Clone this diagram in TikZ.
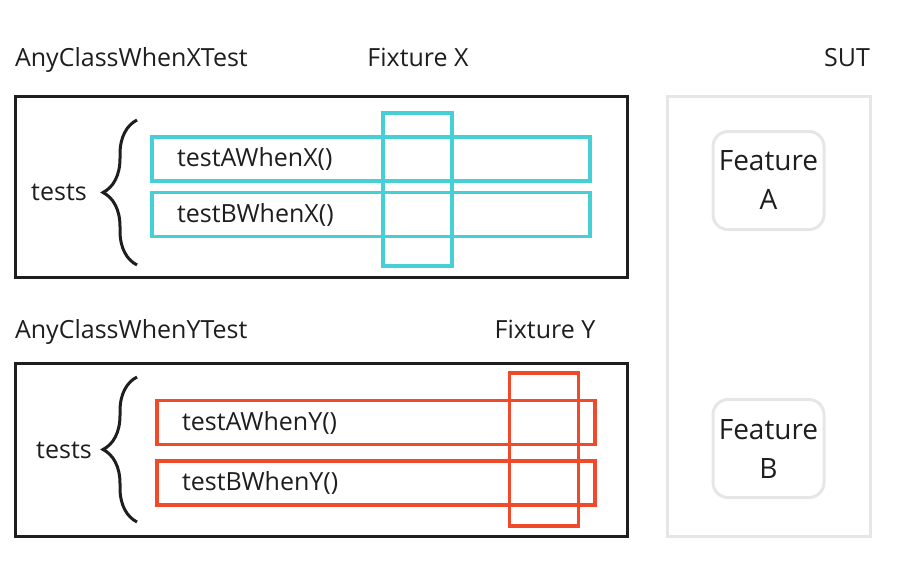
\documentclass[tikz,border=0pt]{standalone}
\usepackage{fontspec}
\setmainfont{Open Sans}
\usetikzlibrary{positioning,decorations.pathreplacing}

\definecolor{inkdark}{HTML}{1E1E1E}
\definecolor{fixcyan}{HTML}{45D0D6}
\definecolor{fixred}{HTML}{F04A2A}
\definecolor{sutgrey}{HTML}{E6E6E6}

\begin{document}
\begin{tikzpicture}[
  x=1pt, y=-1pt,
  every node/.style={inner sep=0pt, outer sep=0pt, text=inkdark},
  title/.style={font=\fontsize{25}{29}\selectfont},
  classbox/.style={draw=inkdark, line width=3pt},
  sutbox/.style={draw=sutgrey, line width=3pt},
  featurebox/.style={draw=sutgrey, line width=3pt, rounded corners=15pt,
    minimum width=111, minimum height=98, align=center,
    font=\fontsize{28}{39}\selectfont},
  testbox/.style={draw=#1, line width=3.5pt, anchor=west, minimum width=438,
    minimum height=44, inner xsep=25pt, text width=388, align=left,
    font=\fontsize{25}{29}\selectfont},
  fixbox/.style={draw=#1, line width=3.5pt, minimum width=69, minimum height=153},
  tbrace/.style={draw=inkdark, line width=3pt, decorate,
    decoration={brace, amplitude=34pt}}
]
\useasboundingbox (0,0) rectangle (899,565);

% titles
\node[title, anchor=base west] (titleX) at (15,66) {AnyClassWhenXTest};
\node[title, anchor=base] (fixXlbl) at (418,66) {Fixture X};
\node[title, anchor=base] (sutlbl) at (847,66) {SUT};
\node[title, anchor=base west] (titleY) at (15,338) {AnyClassWhenYTest};
\node[title, anchor=base] (fixYlbl) at (545,338) {Fixture Y};

% class X
\node[classbox, minimum width=612, minimum height=181] (classX) at (321,186.5) {};
\node[testbox=fixcyan] (testAX) at (152,159) {testAWhenX()};
\node[testbox=fixcyan] (testBX) at (152,214.5) {testBWhenX()};
\node[fixbox=fixcyan] (fixX) at (417.5,189.5) {};
\coordinate (braceXtop) at (137,120);
\coordinate (braceXbot) at (137,265);
\draw[tbrace] (braceXbot) -- (braceXtop);
\node[title] (testsX) at (59,192) {tests};

% class Y
\node[classbox, minimum width=612, minimum height=173] (classY) at (321,449.5) {};
\node[testbox=fixred] (testAY) at (157,422.5) {testAWhenY()};
\node[testbox=fixred] (testBY) at (157,483) {testBWhenY()};
\node[fixbox=fixred] (fixY) at (544,449.5) {};
\coordinate (braceYtop) at (137,377);
\coordinate (braceYbot) at (137,522);
\draw[tbrace] (braceYbot) -- (braceYtop);
\node[title] (testsY) at (64,450) {tests};

% system under test
\node[sutbox, minimum width=203, minimum height=440] (sut) at (768.5,316) {};
\node[featurebox] (featA) at (768.5,180.5) {Feature\\A};
\node[featurebox] (featB) at (768.5,448.5) {Feature\\B};
\end{tikzpicture}
\end{document}
